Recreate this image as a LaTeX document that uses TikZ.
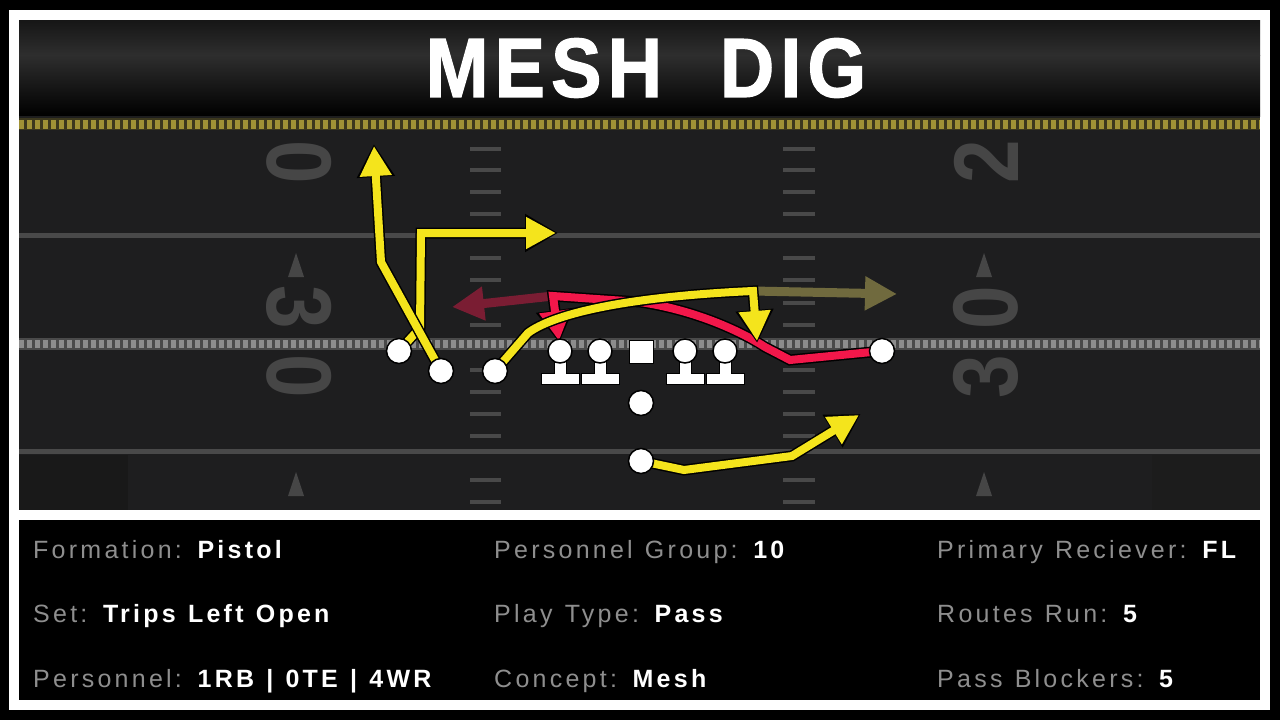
\documentclass[tikz,border=0pt]{standalone}
\usepackage{fontspec}
\usepackage{graphicx}
\usetikzlibrary{arrows.meta}
\setmainfont{Liberation Sans}
\newfontfamily\infofont[LetterSpace=13, WordSpace=1.2]{Liberation Sans}
\newfontfamily\titlefont[LetterSpace=8, BoldFeatures={FakeBold=1.5}]{Liberation Sans}
\definecolor{fieldbg}{HTML}{1E1E1F}
\definecolor{hashgray}{HTML}{494949}
\definecolor{numgray}{HTML}{464646}
\definecolor{yellowc}{HTML}{F4E41C}
\definecolor{redc}{HTML}{F2174A}
\definecolor{olivec}{HTML}{706A3E}
\definecolor{darkredc}{HTML}{7A1D33}
\definecolor{labelc}{HTML}{8E8E8E}
\definecolor{stripey}{HTML}{A09236}
\definecolor{stripeybase}{HTML}{3C381E}
\definecolor{stripeg}{HTML}{8C8C8C}
\definecolor{stripegbase}{HTML}{4A4A4A}
\definecolor{bandtop}{HTML}{161616}
\definecolor{bandmid}{HTML}{2E2E2E}
\newcommand\infolab[1]{{\mdseries\color{labelc}#1}}
\begin{document}
\begin{tikzpicture}[x=1pt,y=-1pt,
  route/.style={line width=8pt, draw=#1, -{Triangle[length=30pt,width=30pt]},
     preaction={draw=black, line width=11pt, shorten >=-2pt, -{Triangle[length=33pt,width=36pt]}}},
  fadeline/.style={line width=9pt, draw=#1, -{Triangle[length=32pt,width=32pt]}},
  player/.style={circle, fill=white, draw=black, line width=1.5pt, minimum size=25pt, inner sep=0pt},
  olbase/.style={fill=white, draw=black, line width=1pt},
  info/.style={anchor=base west, inner sep=0pt, text=white, font=\infofont\fontsize{25}{30}\selectfont\bfseries},
  yardnum/.style={inner sep=0pt, text=numgray, font=\fontsize{92}{92}\selectfont\bfseries},
  tick/.style={draw=hashgray, line width=4pt},
  numtri/.style={fill=numgray}
]
\useasboundingbox (0,0) rectangle (1280,720);
% frame
\fill[black] (0,0) rectangle (1280,720);
\fill[white] (9,10) rectangle (1270,710);
% title band
\shade[top color=bandtop, bottom color=bandmid] (19,20) rectangle (1260,55);
\shade[top color=bandmid, bottom color=black] (19,55) rectangle (1260,116);
% field
\fill[fieldbg] (19,116) rectangle (1260,510);
\fill[black!90!white] (19,455) rectangle (128,510);
\fill[black!89!white] (1152,455) rectangle (1260,510);
% yellow stripe line
\draw[stripeybase, line width=12pt] (19,124) -- (1260,124);
\draw[stripey, line width=9pt, dash pattern=on 5pt off 3pt] (19,124) -- (1260,124);
% hash lines
\draw[hashgray, line width=5pt] (19,235) -- (1260,235);
\draw[hashgray, line width=5pt] (19,451) -- (1260,451);
% line of scrimmage
\draw[stripegbase, line width=12pt] (19,344) -- (1260,344);
\draw[stripeg, line width=8pt, dash pattern=on 5pt off 3pt] (19,344) -- (1260,344);
% hash ticks
\foreach \yy in {149,170,192,214,258,280,303,325,370,392,414,436,480,502}{
  \draw[tick] (470,\yy) -- (501,\yy);
  \draw[tick] (783,\yy) -- (815,\yy);
}
% yard numbers
\node[yardnum, rotate=-90] (ntl) at (299,162) {\scalebox{0.85}[1]{0}};
\node[yardnum, rotate=-90] (nl30) at (299,342) {\scalebox{0.85}[1]{3\hspace{30pt}0}};
\node[yardnum, rotate=90] (ntr) at (986,162) {\scalebox{0.85}[1]{2}};
\node[yardnum, rotate=90] (nr30) at (986,342) {\scalebox{0.85}[1]{3\hspace{30pt}0}};
\fill[numtri] (296,253) -- (304,277) -- (288,277) -- cycle;
\fill[numtri] (984,253) -- (992,277) -- (976,277) -- cycle;
\fill[numtri] (296,472) -- (304,496) -- (288,496) -- cycle;
\fill[numtri] (984,472) -- (992,496) -- (976,496) -- cycle;
% title
\node[text=white, inner sep=0pt, font=\titlefont\fontsize{84}{84}\selectfont\bfseries] (title) at (646,68) {\scalebox{0.9}[1]{MESH\hspace{64pt}DIG}};
% players (positions)
\coordinate (pwr1) at (399,351);
\coordinate (ps1) at (441,371);
\coordinate (ps2) at (495,371);
\coordinate (pqb) at (641,403);
\coordinate (prb) at (641,461);
\coordinate (pwr2) at (882,351);
% route end points
\coordinate (digtip) at (556,233);
\coordinate (gotip) at (374,146);
\coordinate (s2turn) at (753,291);
\coordinate (s2sit) at (757,341);
\coordinate (olivetip) at (897,294);
\coordinate (redturn) at (553,296);
\coordinate (redtip) at (452,307);
\coordinate (redsit) at (559,341);
\coordinate (wheeltip) at (859,415);
% faded option arrows
\draw[fadeline=olivec] (s2turn) -- (olivetip);
\draw[fadeline=darkredc] (redturn) -- (redtip);
% routes
\draw[route=redc] (pwr2) -- (790,360) -- (765,347) .. controls (745,334) and (700,311) .. (640,302) -- (redturn) -- (redsit);
\draw[route=yellowc] (ps2) -- (528,333) .. controls (552,315) and (620,297) .. (s2turn) -- (s2sit);
\draw[route=yellowc] (pwr1) -- (420,328) -- (421,233) -- (digtip);
\draw[route=yellowc] (ps1) -- (381,262) -- (gotip);
\draw[route=yellowc] (prb) -- (684,470) -- (792,456) -- (wheeltip);
% offensive line
\foreach \n/\xx in {ol1/560, ol2/600, ol3/685, ol4/725}{
  \filldraw[olbase] (\xx-6,360) -- (\xx+6,360) -- (\xx+6,373) -- (\xx+19,373) -- (\xx+19,384) -- (\xx-19,384) -- (\xx-19,373) -- (\xx-6,373) -- cycle;
  \node[player, minimum size=24pt] (\n) at (\xx,351) {};
}
\node[fill=white, draw=black, line width=1pt, minimum width=24pt, minimum height=23pt, inner sep=0pt] (ctr) at (641,352) {};
\node[player] (wr1) at (pwr1) {};
\node[player] (s1) at (ps1) {};
\node[player] (s2) at (ps2) {};
\node[player] (qb) at (pqb) {};
\node[player] (rb) at (prb) {};
\node[player] (wr2) at (pwr2) {};
% bottom panel
\fill[black] (19,520) rectangle (1260,700);
\node[info] (i1) at (33,558) {\infolab{Formation:} Pistol};
\node[info] (i2) at (494,558) {\infolab{Personnel Group:} 10};
\node[info] (i3) at (937,558) {\infolab{Primary Reciever:} FL};
\node[info] (i4) at (33,622) {\infolab{Set:} Trips Left Open};
\node[info] (i5) at (494,622) {\infolab{Play Type:} Pass};
\node[info] (i6) at (937,622) {\infolab{Routes Run:} 5};
\node[info] (i7) at (33,687) {\infolab{Personnel:} 1RB | 0TE | 4WR};
\node[info] (i8) at (494,687) {\infolab{Concept:} Mesh};
\node[info] (i9) at (937,687) {\infolab{Pass Blockers:} 5};
\end{tikzpicture}
\end{document}
